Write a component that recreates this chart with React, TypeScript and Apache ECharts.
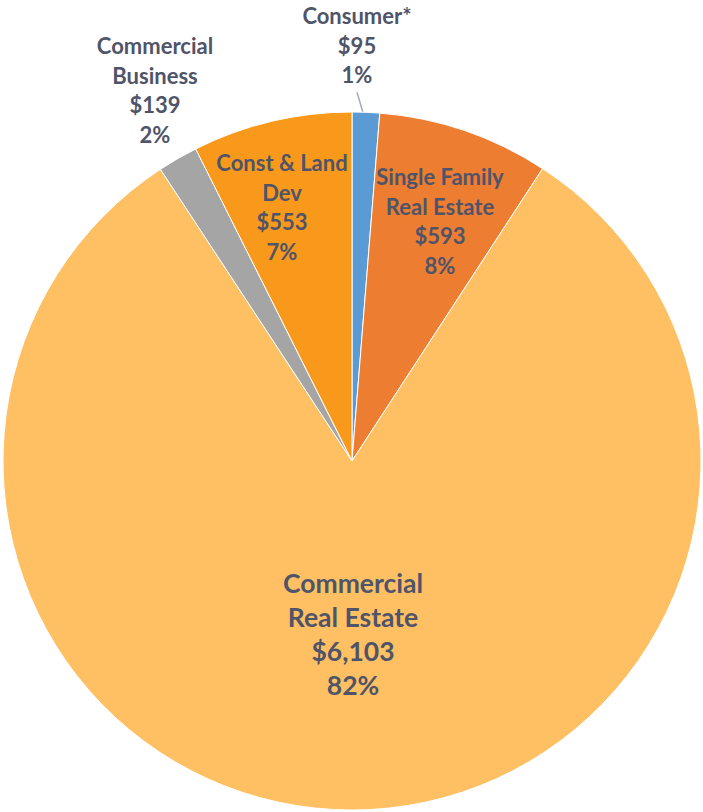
import React, { useEffect, useRef } from "react";
import * as echarts from "echarts";

const categories = ["Consumer*", "Single Family\nReal Estate", "Commercial\nReal Estate", "Commercial\nBusiness", "Const & Land\nDev"];
const values = [95, 593, 6103, 139, 553];
const valueLabels = ["$95", "$593", "$6,103", "$139", "$553"];
const percentLabels = ["1%", "8%", "82%", "2%", "7%"];
const colors = ["#5B9BD5", "#ED7D31", "#FFBF63", "#A5A5A5", "#F8991C"];

// label centres (x, y) in px
const labelPos: number[][] = [
  [357, 45],
  [440, 221],
  [353, 634],
  [155, 90],
  [282, 207],
];

export default function App() {
  const ref = useRef<HTMLDivElement>(null);
  useEffect(() => {
    const chart = echarts.init(ref.current!, null, { renderer: "svg" });
    const textColor = "#4F5469";
    chart.setOption({
      animation: false,
      backgroundColor: "#ffffff",
      series: [
        {
          type: "pie",
          center: [352, 461],
          radius: 349,
          startAngle: 90,
          clockwise: true,
          avoidLabelOverlap: false,
          itemStyle: { borderColor: "#ffffff", borderWidth: 1 },
          data: categories.map((c, i) => ({
            name: c,
            value: values[i],
            itemStyle: { color: colors[i] },
            label: {
              show: true,
              position: i === 0 || i === 3 ? "outside" : "inside",
              formatter: `${c}\n${valueLabels[i]}\n${percentLabels[i]}`,
              color: textColor,
              fontFamily: "Lato",
              fontWeight: "bold",
              fontSize: i === 2 ? 26.5 : 22,
              lineHeight: i === 2 ? 34 : 29.5,
              align: "center",
            },
            labelLine: {
              show: i === 0,
              length: 20,
              length2: 0,
              lineStyle: { color: "#A6AAB8", width: 1.5 },
            },
          })),
          labelLayout: (params: any) => {
            const i = params.dataIndex;
            const [x, y] = labelPos[i];
            const res: any = { x, y, align: "center", verticalAlign: "middle" };
            if (i === 0 && params.labelLinePoints) {
              const p0 = params.labelLinePoints[0];
              res.labelLinePoints = [[p0[0] - 3, p0[1]], [x, y + params.labelRect.height / 2 + 3]];
            }
            return res;
          },
        },
      ],
    });
    return () => chart.dispose();
  }, []);
  return (
    <div
      ref={ref}
      style={{ position: "fixed", left: 0, top: 0, width: 703, height: 812 }}
    />
  );
}
